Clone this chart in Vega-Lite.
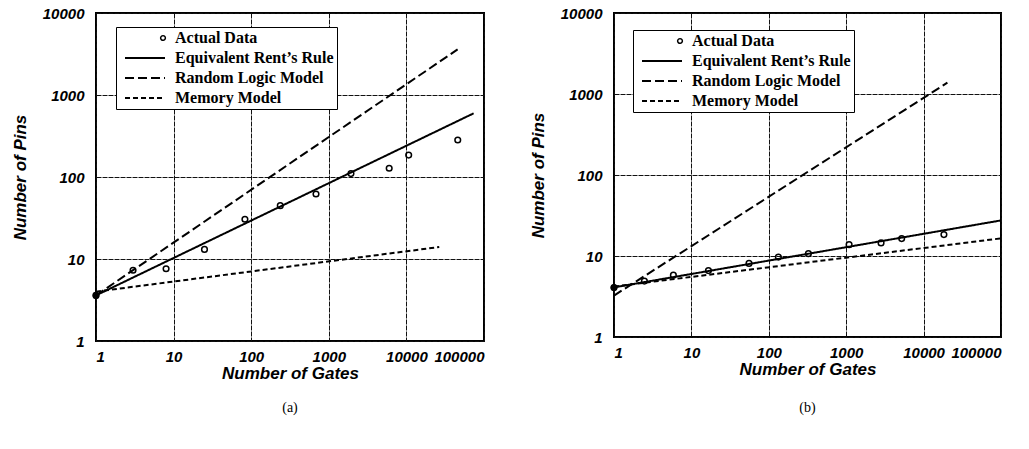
{
  "$schema": "https://vega.github.io/schema/vega-lite/v6.json",
  "padding": {"left": 10, "top": 5, "right": 5, "bottom": 5},
  "background": "white",
  "spacing": 43,
  "datasets": {
    "ptsA": [
      {"x": 1, "y": 3.6}, {"x": 3, "y": 7.3}, {"x": 8, "y": 7.6}, {"x": 25, "y": 13.1},
      {"x": 83, "y": 30.5}, {"x": 237, "y": 44.7}, {"x": 684, "y": 62}, {"x": 1930, "y": 110},
      {"x": 6000, "y": 128}, {"x": 10700, "y": 185}, {"x": 45900, "y": 283}
    ],
    "linesA": [
      {"series": "Equivalent Rent’s Rule", "x": 1, "y": 3.6},
      {"series": "Equivalent Rent’s Rule", "x": 73600, "y": 598},
      {"series": "Random Logic Model", "x": 1, "y": 3.6},
      {"series": "Random Logic Model", "x": 45700, "y": 3600},
      {"series": "Memory Model", "x": 1, "y": 4.0},
      {"series": "Memory Model", "x": 26500, "y": 14}
    ],
    "ptsB": [
      {"x": 1, "y": 4.07}, {"x": 2.47, "y": 4.9}, {"x": 5.85, "y": 5.8}, {"x": 16.6, "y": 6.6},
      {"x": 55.5, "y": 8.1}, {"x": 133, "y": 9.7}, {"x": 325, "y": 10.7}, {"x": 1090, "y": 13.8},
      {"x": 2820, "y": 14.5}, {"x": 5210, "y": 16.4}, {"x": 18300, "y": 18.4}
    ],
    "linesB": [
      {"series": "Equivalent Rent’s Rule", "x": 1, "y": 4.1},
      {"series": "Equivalent Rent’s Rule", "x": 100000, "y": 27.5},
      {"series": "Random Logic Model", "x": 1, "y": 3.25},
      {"series": "Random Logic Model", "x": 20300, "y": 1380},
      {"series": "Memory Model", "x": 1, "y": 4.2},
      {"series": "Memory Model", "x": 100000, "y": 16.5}
    ]
  },
  "config": {
    "view": {"stroke": "black", "strokeWidth": 2},
    "axis": {
      "domain": false,
      "ticks": false,
      "grid": true,
      "gridColor": "#111",
      "gridWidth": 1,
      "gridDash": [5, 1],
      "labelFont": "Liberation Sans",
      "labelFontWeight": "bold",
      "labelFontStyle": "italic",
      "labelFontSize": 15,
      "labelColor": "black",
      "titleFont": "Liberation Sans",
      "titleFontWeight": "bold",
      "titleFontStyle": "italic",
      "titleFontSize": 17,
      "titleColor": "black"
    },
    "legend": {
      "labelFont": "Liberation Serif",
      "labelFontWeight": "bold",
      "labelFontSize": 16,
      "labelColor": "black",
      "strokeColor": "black",
      "fillColor": "white",
      "padding": 3,
      "rowPadding": 4,
      "labelOffset": 40,
      "symbolStrokeColor": "black",
      "symbolStrokeWidth": 2
    },
    "title": {"font": "Liberation Serif", "fontWeight": "normal", "fontSize": 14, "color": "black"}
  },
  "hconcat": [
    {
      "width": 388,
      "height": 328,
      "title": {"text": "(a)", "orient": "bottom", "offset": 20, "frame": "group"},
      "layer": [
        {
          "data": {"name": "linesA"},
          "mark": {"type": "line", "color": "black", "strokeWidth": 2},
          "encoding": {
            "x": {"field": "x", "type": "quantitative", "scale": {"type": "log", "domain": [1, 100000], "nice": false},
                  "axis": {"values": [1, 10, 100, 1000, 10000, 100000], "format": "d", "title": "Number of Gates", "labelPadding": 8, "titlePadding": 1}},
            "y": {"field": "y", "type": "quantitative", "scale": {"type": "log", "domain": [1, 10000], "nice": false},
                  "axis": {"values": [1, 10, 100, 1000, 10000], "format": "d", "title": "Number of Pins", "labelPadding": 12, "titlePadding": 13}},
            "detail": {"field": "series"},
            "strokeDash": {
              "field": "series", "type": "nominal",
              "scale": {"domain": ["Actual Data", "Equivalent Rent’s Rule", "Random Logic Model", "Memory Model"],
                        "range": [[1, 0], [1, 0], [9, 4], [5, 3]]},
              "legend": {
                "title": null, "orient": "none", "legendX": 20, "legendY": 14,
                "strokeColor": "black", "fillColor": "white",
                "encode": {"symbols": {"update": {
                  "x": {"signal": "datum.value === 'Actual Data' ? 44 : 26"},
                  "shape": {"signal": "datum.value === 'Actual Data' ? 'circle' : 'stroke'"},
                  "size": {"signal": "datum.value === 'Actual Data' ? 22 : 1600"},
                  "strokeWidth": {"signal": "datum.value === 'Actual Data' ? 1.5 : 2"}
                }}}
              }
            }
          }
        },
        {
          "data": {"name": "ptsA"},
          "mark": {"type": "point", "shape": "circle", "color": "black", "filled": false, "opacity": 1, "size": 32, "strokeWidth": 1.5},
          "encoding": {
            "x": {"field": "x", "type": "quantitative"},
            "y": {"field": "y", "type": "quantitative"}
          }
        },
        {
          "data": {"name": "ptsA"},
          "transform": [{"filter": "datum.x == 1"}],
          "mark": {"type": "point", "shape": "circle", "color": "black", "filled": true, "opacity": 1, "size": 45},
          "encoding": {
            "x": {"field": "x", "type": "quantitative"},
            "y": {"field": "y", "type": "quantitative"}
          }
        }
      ]
    },
    {
      "width": 387,
      "height": 324,
      "title": {"text": "(b)", "orient": "bottom", "offset": 24, "frame": "group"},
      "layer": [
        {
          "data": {"name": "linesB"},
          "mark": {"type": "line", "color": "black", "strokeWidth": 2},
          "encoding": {
            "x": {"field": "x", "type": "quantitative", "scale": {"type": "log", "domain": [1, 100000], "nice": false},
                  "axis": {"values": [1, 10, 100, 1000, 10000, 100000], "format": "d", "title": "Number of Gates", "labelPadding": 8, "titlePadding": 1}},
            "y": {"field": "y", "type": "quantitative", "scale": {"type": "log", "domain": [1, 10000], "nice": false},
                  "axis": {"values": [1, 10, 100, 1000, 10000], "format": "d", "title": "Number of Pins", "labelPadding": 12, "titlePadding": 13}},
            "detail": {"field": "series"},
            "strokeDash": {
              "field": "series", "type": "nominal",
              "scale": {"domain": ["Actual Data", "Equivalent Rent’s Rule", "Random Logic Model", "Memory Model"],
                        "range": [[1, 0], [1, 0], [9, 4], [5, 3]]},
              "legend": {
                "title": null, "orient": "none", "legendX": 19, "legendY": 17,
                "strokeColor": "black", "fillColor": "white",
                "encode": {"symbols": {"update": {
                  "x": {"signal": "datum.value === 'Actual Data' ? 44 : 26"},
                  "shape": {"signal": "datum.value === 'Actual Data' ? 'circle' : 'stroke'"},
                  "size": {"signal": "datum.value === 'Actual Data' ? 22 : 1600"},
                  "strokeWidth": {"signal": "datum.value === 'Actual Data' ? 1.5 : 2"}
                }}}
              }
            }
          }
        },
        {
          "data": {"name": "ptsB"},
          "mark": {"type": "point", "shape": "circle", "color": "black", "filled": false, "opacity": 1, "size": 32, "strokeWidth": 1.5},
          "encoding": {
            "x": {"field": "x", "type": "quantitative"},
            "y": {"field": "y", "type": "quantitative"}
          }
        },
        {
          "data": {"name": "ptsB"},
          "transform": [{"filter": "datum.x == 1"}],
          "mark": {"type": "point", "shape": "circle", "color": "black", "filled": true, "opacity": 1, "size": 45},
          "encoding": {
            "x": {"field": "x", "type": "quantitative"},
            "y": {"field": "y", "type": "quantitative"}
          }
        }
      ]
    }
  ],
  "resolve": {"scale": {"strokeDash": "independent"}, "legend": {"strokeDash": "independent"}}
}
